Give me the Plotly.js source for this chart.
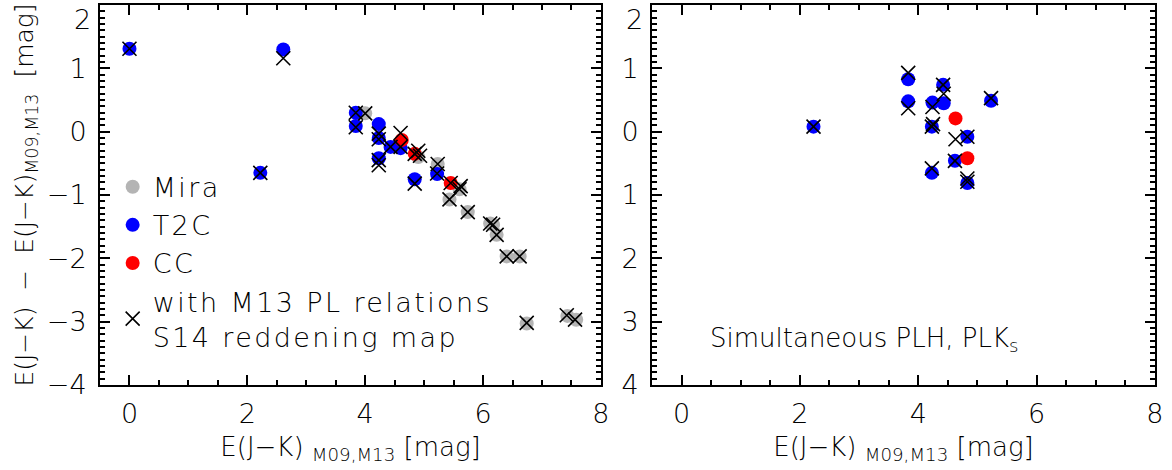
<!DOCTYPE html>
<html>
<head>
<meta charset="utf-8">
<script src="https://cdn.plot.ly/plotly-3.0.1.min.js"></script>
<style>
  html, body { margin: 0; padding: 0; background: #fff; }
  #chart { width: 1172px; height: 470px; }
  text.legendtext { letter-spacing: 2.4px; }
</style>
</head>
<body>
<div id="chart"></div>
<script>
// Reddening differences: E(J-K) from M09/M13 vs. individual estimates
// Left panel: per-star comparison by variable type
const miraX = [4.00, 4.90, 5.23, 5.43, 5.60, 5.74, 6.12, 6.17, 6.23, 6.40, 6.62, 6.74, 7.43, 7.58];
const miraY = [0.29, -0.40, -0.51, -1.07, -0.91, -1.27, -1.45, -1.47, -1.63, -1.97, -1.97, -3.03, -2.91, -2.97];

const t2cX = [0.00, 2.61, 2.22, 3.84, 3.84, 4.23, 4.23, 4.23, 4.43, 4.60, 4.84, 5.22];
const t2cY = [1.31, 1.30, -0.65, 0.30, 0.09, 0.12, -0.10, -0.42, -0.24, -0.26, -0.75, -0.67];

const ccX = [4.62, 4.84, 5.45];
const ccY = [-0.13, -0.35, -0.81];

// same stars, using M13 PL relations and the S14 reddening map
const m13X = [0.00, 2.61, 2.22, 3.84, 3.84, 4.23, 4.23, 4.23, 4.23, 4.43, 4.60, 4.84, 5.22,
              4.60, 4.84, 5.45,
              4.00, 4.90, 4.93, 5.23, 5.60, 5.62, 5.43, 5.74, 6.12, 6.17, 6.23, 6.40, 6.62, 6.74, 7.42, 7.56];
const m13Y = [1.31, 1.16, -0.65, 0.30, 0.07, -0.03, -0.12, -0.45, -0.53, -0.24, -0.24, -0.82, -0.66,
              -0.02, -0.35, -0.81,
              0.29, -0.30, -0.38, -0.51, -0.91, -0.86, -1.07, -1.27, -1.45, -1.47, -1.63, -1.97, -1.97, -3.02, -2.90, -2.97];

// Right panel: simultaneous PLH, PLKs fits
const simT2cX = [2.23, 3.83, 3.83, 4.24, 4.42, 4.43, 5.23, 4.23, 4.83, 4.62, 4.23, 4.83];
const simT2cY = [0.08, 0.83, 0.48, 0.46, 0.74, 0.45, 0.49, 0.08, -0.08, -0.46, -0.65, -0.81];
const simCcX = [4.63, 4.83];
const simCcY = [0.21, -0.42];
const simM13X = [2.23, 3.83, 3.83, 4.24, 4.42, 4.43, 5.23, 4.23, 4.25, 4.63, 4.83, 4.62, 4.23, 4.83, 4.83];
const simM13Y = [0.08, 0.93, 0.37, 0.39, 0.74, 0.60, 0.53, 0.08, 0.12, -0.12, -0.08, -0.46, -0.58, -0.74, -0.79];

// y ticks; the top label (2) sits just inside the frame, drawn as an annotation
const yTickVals = [-4, -3, -2, -1, 0, 1, 2];
const leftYTickText = ['\u22124', '\u22123', '\u22122', '\u22121', '0', '1', ''];
const rightYTickText = ['4', '3', '2', '1', '0', '1', ''];
const yTopLabel = '2';
const xTickVals = [0, 2, 4, 6, 8];

const FONT = 'DejaVu Sans';
const GREY = '#b4b4b4', BLUE = '#0000ff', RED = '#ff0000';
const DOT = 14;

// minor tick positions for the axis frames
function steps(lo, hi, step) {
  const out = [];
  const n = Math.round((hi - lo) / step);
  for (let i = 0; i <= n; i++) out.push(+(lo + i * step).toFixed(3));
  return out;
}

function dots(x, y, color, name, xa, ya, show, group) {
  return {
    type: 'scatter', mode: 'markers', x: x, y: y, name: name,
    xaxis: xa, yaxis: ya, showlegend: show, legendgroup: group,
    marker: { symbol: 'circle', size: DOT, color: color, line: { width: 0 } },
    hoverinfo: 'x+y'
  };
}
function crosses(x, y, name, xa, ya, show) {
  return {
    type: 'scatter', mode: 'markers', x: x, y: y, name: name,
    xaxis: xa, yaxis: ya, showlegend: show, legendgroup: 'm13',
    marker: { symbol: 'x-thin-open', size: 14, color: '#000', line: { width: 1.6, color: '#000' } },
    hoverinfo: 'x+y'
  };
}

const traces = [
  dots(miraX, miraY, GREY, 'Mira', 'x', 'y', true, 'mira'),
  dots(t2cX, t2cY, BLUE, 'T2C', 'x', 'y', true, 't2c'),
  dots(ccX, ccY, RED, 'CC', 'x', 'y', true, 'cc'),
  crosses(m13X, m13Y, 'with M13 PL relations<br>S14 reddening map', 'x', 'y', true),
  dots(simT2cX, simT2cY, BLUE, 'T2C', 'x2', 'y2', false, 't2c'),
  dots(simCcX, simCcY, RED, 'CC', 'x2', 'y2', false, 'cc'),
  crosses(simM13X, simM13Y, 'M13', 'x2', 'y2', false)
];

const tickFont = { family: FONT, size: 27, color: '#000', weight: 200 };

function xAxis(domain, anchor) {
  return {
    domain: domain, anchor: anchor, range: [-0.5, 8.001],
    showline: true, linewidth: 2, linecolor: '#000', mirror: 'ticks',
    ticks: 'inside', ticklen: 10, tickwidth: 2, tickcolor: '#000',
    tickmode: 'array', tickvals: xTickVals, showgrid: false, zeroline: false,
    tickfont: tickFont, ticklabelstandoff: 4,
    minor: { tickmode: 'array', tickvals: steps(-0.5, 8, 0.5), ticks: 'inside', ticklen: 5, tickwidth: 2, tickcolor: '#000', showgrid: false },
    title: { text: 'E(J\u2212K) <sub>M09,M13</sub> [mag]', font: { family: FONT, size: 26, color: '#000', weight: 200 }, standoff: 9 }
  };
}
function yAxis(anchor, ticktext, titleText) {
  const ax = {
    anchor: anchor, range: [-4.002, 2.002],
    showline: true, linewidth: 2, linecolor: '#000', mirror: 'ticks',
    ticks: 'inside', ticklen: 10, tickwidth: 2, tickcolor: '#000',
    tickmode: 'array', tickvals: yTickVals, ticktext: ticktext,
    showgrid: false, zeroline: false,
    tickfont: tickFont, ticklabelstandoff: 6,
    minor: { tickmode: 'array', tickvals: steps(-4, 2, 0.1), ticks: 'inside', ticklen: 5, tickwidth: 2, tickcolor: '#000', showgrid: false }
  };
  if (titleText) ax.title = { text: titleText, font: { family: FONT, size: 25, color: '#000', weight: 200 }, standoff: 6 };
  return ax;
}

function topLabel(xDomainStart) {
  return {
    xref: 'paper', yref: 'y', x: xDomainStart, y: 2, xanchor: 'right', yanchor: 'top',
    xshift: -7, yshift: 3, text: yTopLabel, showarrow: false, font: tickFont
  };
}

const leftDomain = [0, 0.4749], rightDomain = [0.5232, 1];

const layout = {
  width: 1172, height: 470,
  margin: { l: 100, r: 17, t: 5, b: 85 },
  paper_bgcolor: '#fff', plot_bgcolor: '#fff',
  showlegend: true,
  legend: {
    x: 0.012, y: 0.585, xanchor: 'left', yanchor: 'top',
    bgcolor: 'rgba(0,0,0,0)', borderwidth: 0,
    font: { family: FONT, size: 27, color: '#000', weight: 200 },
    tracegroupgap: 0, itemwidth: 30
  },
  xaxis: xAxis(leftDomain, 'y'),
  yaxis: yAxis('x', leftYTickText, 'E(J\u2212K)  \u2212  E(J\u2212K)<sub>M09,M13</sub>  [mag]'),
  xaxis2: xAxis(rightDomain, 'y2'),
  yaxis2: yAxis('x2', rightYTickText, null),
  annotations: [
    topLabel(leftDomain[0]),
    topLabel(rightDomain[0]),
    {
      xref: 'x2', yref: 'y2', x: 0.45, y: -3.29, xanchor: 'left', yanchor: 'middle',
      text: 'Simultaneous PLH, PLK<sub>s</sub>', showarrow: false,
      font: { family: FONT, size: 26, color: '#000', weight: 200 }
    }
  ]
};

Plotly.newPlot('chart', traces, layout, { displayModeBar: false, staticPlot: true });
</script>
</body>
</html>
